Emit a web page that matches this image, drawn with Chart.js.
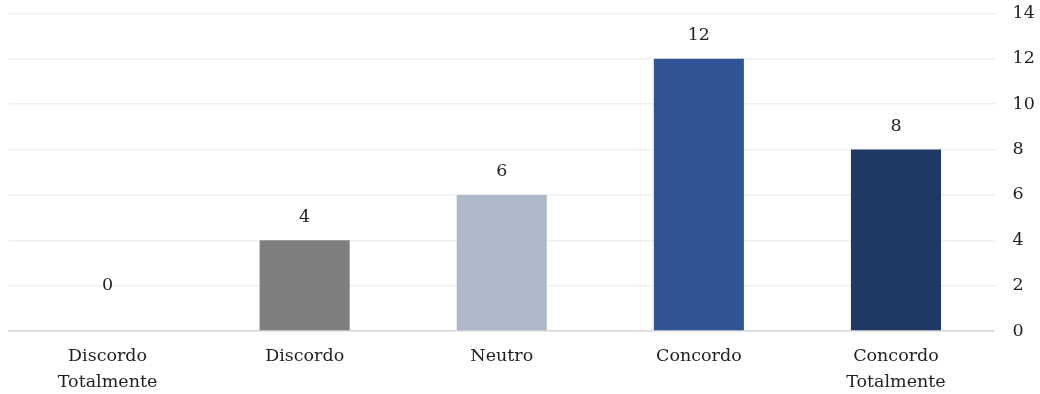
<!DOCTYPE html>
<html>
<head>
<meta charset="utf-8">
<script src="https://cdn.jsdelivr.net/npm/chart.js@4.4.1/dist/chart.umd.min.js"></script>
<style>
  html, body { margin: 0; padding: 0; background: #ffffff; }
  #wrap { width: 1040px; height: 394px; position: relative; }
</style>
</head>
<body>
<div id="wrap"><canvas id="chart"></canvas></div>
<script>
// Survey answers on a five-point agreement scale
const categories = [
  ['Discordo', 'Totalmente'],
  'Discordo',
  'Neutro',
  'Concordo',
  ['Concordo', 'Totalmente']
];
const counts = [0, 4, 6, 12, 8];
const barColors = ['#7f7f7f', '#7f7f7f', '#adb9ca', '#2f5597', '#203864'];
const yTicks = [0, 2, 4, 6, 8, 10, 12, 14];

const FONT = "Georgia, 'DejaVu Serif', 'Liberation Serif', serif";
const TEXT = '#1f1f1f';

// Value written above each bar
const valueLabels = {
  id: 'valueLabels',
  afterDatasetsDraw(chart) {
    const { ctx } = chart;
    const meta = chart.getDatasetMeta(0);
    ctx.save();
    ctx.font = '17.5px ' + FONT;
    ctx.fillStyle = TEXT;
    ctx.textAlign = 'center';
    ctx.textBaseline = 'middle';
    meta.data.forEach((bar, i) => {
      const v = counts[i];
      const lift = v === 0 ? 46 : 23;
      ctx.fillText(String(v), bar.x, bar.y - lift);
    });
    ctx.restore();
  }
};

new Chart(document.getElementById('chart'), {
  type: 'bar',
  data: {
    labels: categories,
    datasets: [{
      data: counts,
      backgroundColor: barColors,
      borderWidth: 0,
      categoryPercentage: 1,
      barPercentage: 0.457
    }]
  },
  options: {
    responsive: true,
    maintainAspectRatio: false,
    animation: false,
    layout: { padding: { left: 9, top: 13.5, right: 0, bottom: 0 } },
    plugins: { legend: { display: false }, tooltip: { enabled: false } },
    scales: {
      x: {
        grid: { display: false, drawTicks: false },
        border: { display: true, color: '#d9d9d9', width: 1.5 },
        ticks: {
          color: TEXT,
          font: { family: FONT, size: 17.5, lineHeight: 1.45 },
          padding: 13,
          maxRotation: 0,
          autoSkip: false
        },
        afterFit(scale) { scale.height = 63; scale.paddingLeft = 0; scale.paddingRight = 0; }
      },
      y: {
        position: 'right',
        min: 0,
        max: 14,
        afterBuildTicks(scale) { scale.ticks = yTicks.map(v => ({ value: v })); },
        grid: { color: '#efefef', lineWidth: 1.5, drawTicks: false },
        border: { display: false },
        ticks: {
          color: TEXT,
          font: { family: FONT, size: 17.5 },
          padding: 18
        },
        afterFit(scale) { scale.width = 45.5; scale.paddingTop = 0; scale.paddingBottom = 0; }
      }
    }
  },
  plugins: [valueLabels]
});
</script>
</body>
</html>
